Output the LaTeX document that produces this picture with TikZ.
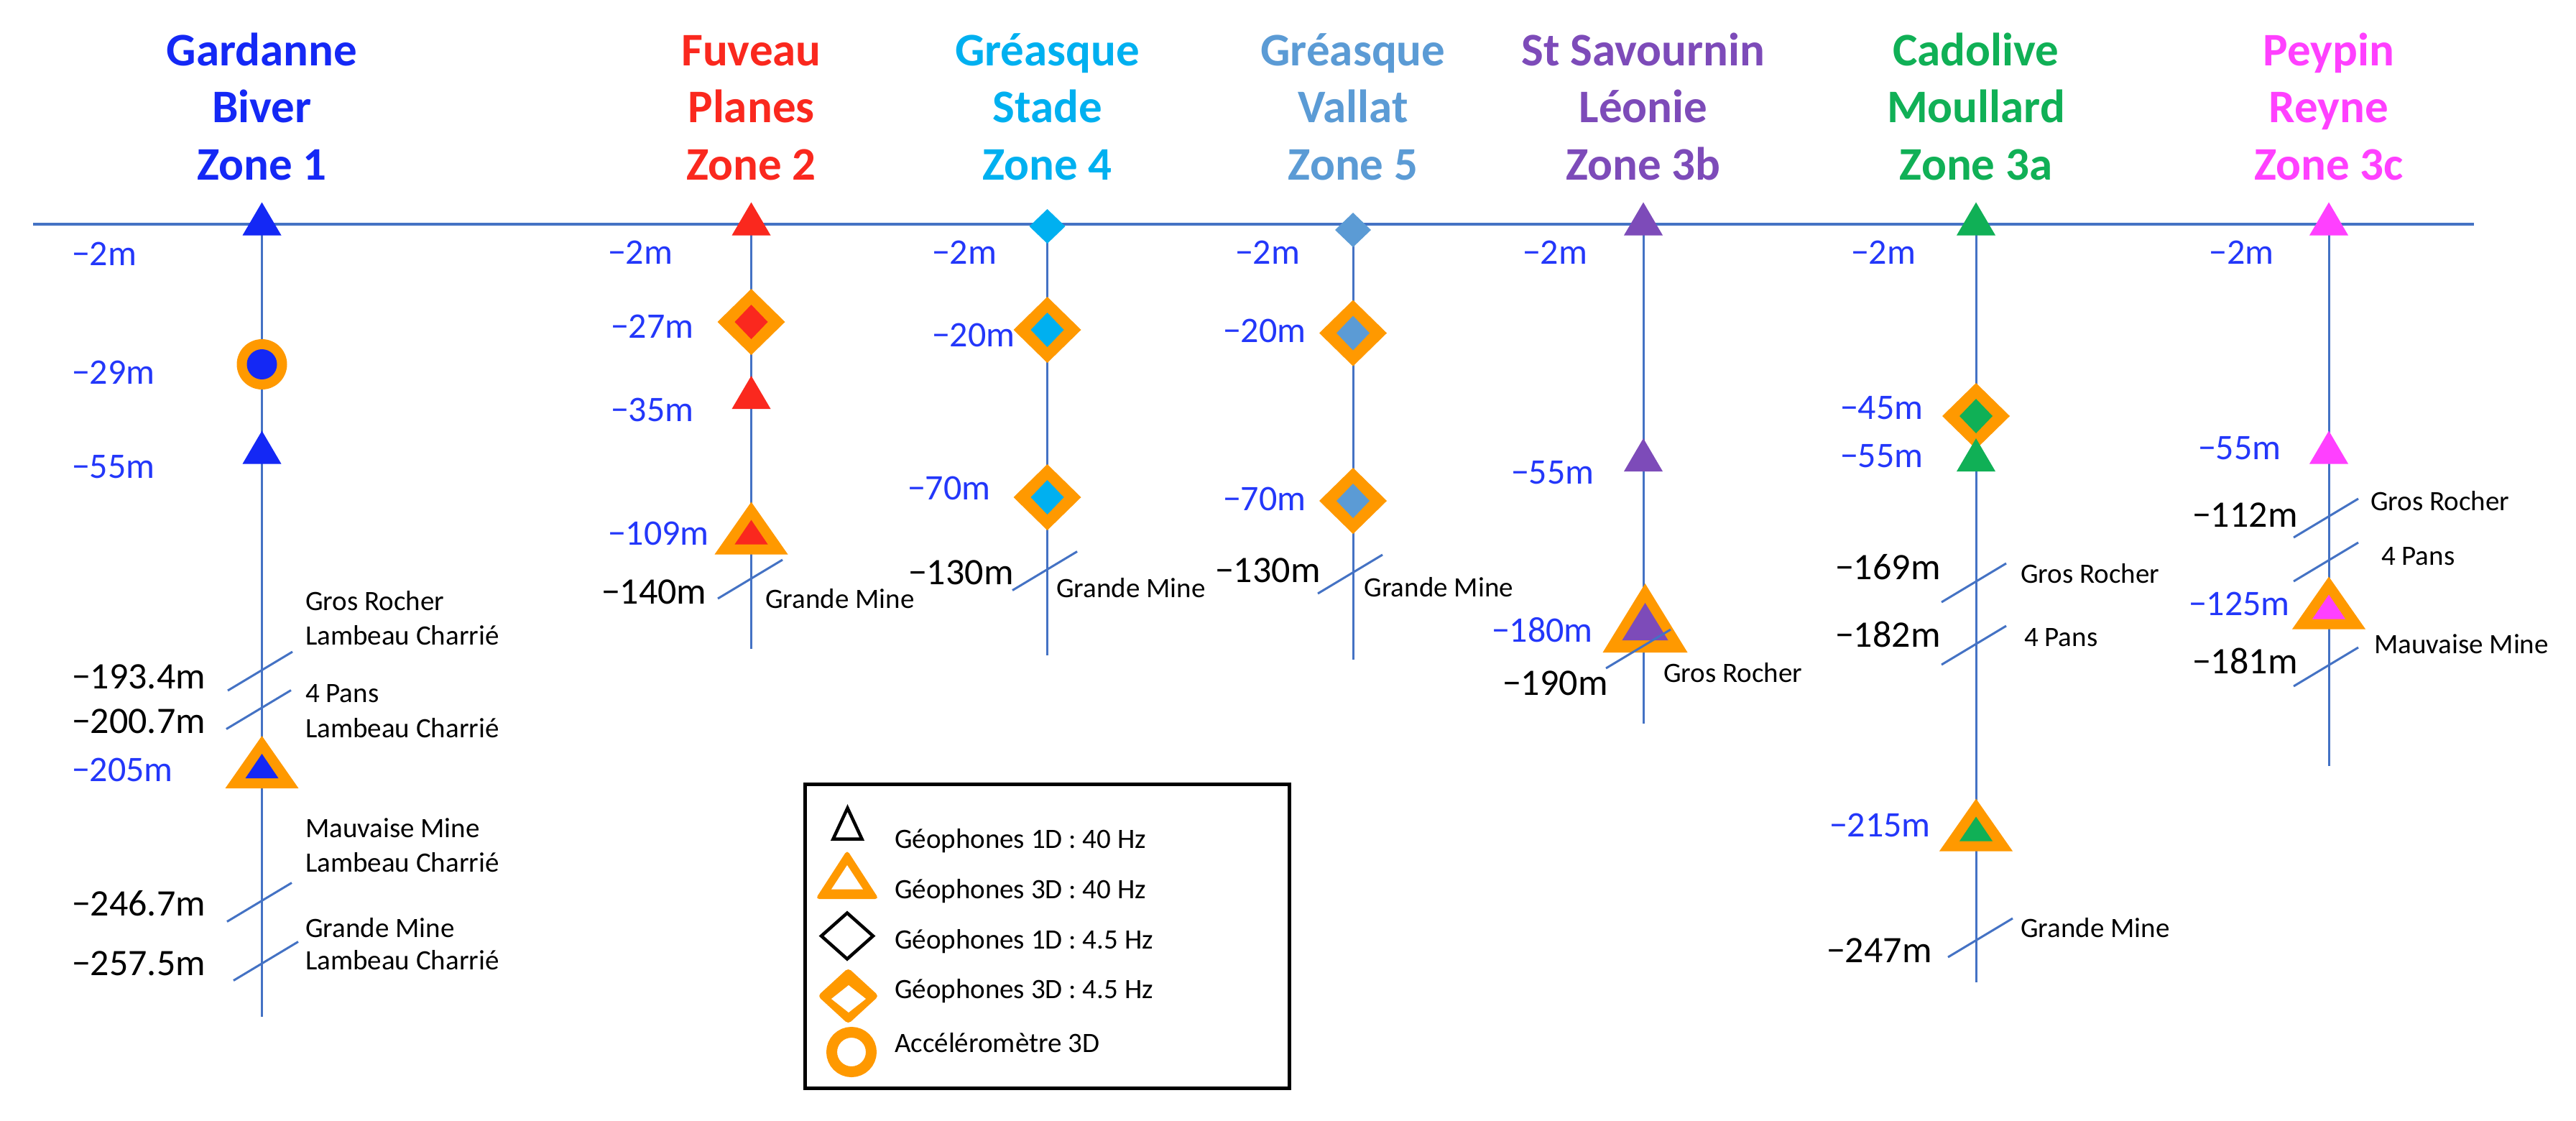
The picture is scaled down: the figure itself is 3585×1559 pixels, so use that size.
\documentclass[tikz,border=0pt]{standalone}
\usepackage{fontspec}
\setmainfont{Carlito}
\definecolor{linecol}{RGB}{68,114,196}
\definecolor{depthblue}{RGB}{35,55,250}
\definecolor{gardblue}{RGB}{20,40,245}
\definecolor{fuvred}{RGB}{250,40,30}
\definecolor{stadecyan}{RGB}{0,176,240}
\definecolor{vallatblue}{RGB}{91,155,213}
\definecolor{savpurple}{RGB}{125,75,185}
\definecolor{cadgreen}{RGB}{16,176,86}
\definecolor{peypink}{RGB}{255,64,255}
\definecolor{orng}{RGB}{255,153,0}
\tikzset{
 hline/.style={linecol, line width=3.5pt},
 vline/.style={linecol, line width=3pt},
 fault/.style={linecol, line width=3pt},
 depth/.style={anchor=west, inner sep=0pt, outer sep=0pt, text=depthblue, font=\fontsize{50}{60}\selectfont},
 depthk/.style={anchor=west, inner sep=0pt, outer sep=0pt, text=black, font=\fontsize{52}{62}\selectfont},
 rock/.style={anchor=west, inner sep=0pt, outer sep=0pt, text=black, font=\fontsize{39}{47}\selectfont},
 ztitle/.style={anchor=base, inner sep=0pt, outer sep=0pt, font=\fontsize{65}{80}\selectfont\bfseries},
 legtext/.style={anchor=west, inner sep=0pt, outer sep=0pt, text=black, font=\fontsize{39}{47}\selectfont},
}
\newcommand\TriS[3]{\fill[#3, shift={(#1,#2)}] (-27,23) -- (27,23) -- (0,-23) -- cycle;}
\newcommand\TriB[3]{\fill[orng, shift={(#1,#2)}] (-51,36.5) -- (51,36.5) -- (0,-36.5) -- cycle;
  \fill[#3, shift={(#1,#2)}] (-23,22.5) -- (23,22.5) -- (0,-11.5) -- cycle;}
\newcommand\TriBL[3]{\fill[orng, shift={(#1,#2)}] (-59,48) -- (59,48) -- (0,-48) -- cycle;
  \fill[#3, shift={(#1,#2)}] (-32,31) -- (32,31) -- (0,-21) -- cycle;}
\newcommand\DiaS[3]{\fill[#3, shift={(#1,#2)}] (0,-24) -- (25,0) -- (0,24) -- (-25,0) -- cycle;}
\newcommand\DiaB[3]{\fill[orng, shift={(#1,#2)}] (0,-46) -- (47,0) -- (0,46) -- (-47,0) -- cycle;
  \fill[#3, shift={(#1,#2)}] (0,-24) -- (23,0) -- (0,24) -- (-23,0) -- cycle;}
\newcommand\Fault[2]{\draw[fault, shift={(#1,#2)}] (-45,27) -- (45,-27);}
\begin{document}
\begin{tikzpicture}[x=1pt,y=-1pt]
\useasboundingbox (0,0) rectangle (3585,1559);
\fill[white] (0,0) rectangle (3585,1559);

% surface line
\coordinate (hl) at (46,312);
\coordinate (hr) at (3443,312);
\draw[hline] (hl) -- (hr);

% boreholes
\coordinate (g0) at (364.5,312);  \coordinate (g1) at (364.5,1415);
\coordinate (f0) at (1045.5,312); \coordinate (f1) at (1045.5,903);
\coordinate (s0) at (1457.5,312); \coordinate (s1) at (1457.5,912);
\coordinate (v0) at (1883,312);   \coordinate (v1) at (1883,918);
\coordinate (l0) at (2287,312);   \coordinate (l1) at (2287,1007);
\coordinate (c0) at (2750,312);   \coordinate (c1) at (2750,1367);
\coordinate (p0) at (3241,312);   \coordinate (p1) at (3241,1066);
\draw[vline] (g0) -- (g1);
\draw[vline] (f0) -- (f1);
\draw[vline] (s0) -- (s1);
\draw[vline] (v0) -- (v1);
\draw[vline] (l0) -- (l1);
\draw[vline] (c0) -- (c1);
\draw[vline] (p0) -- (p1);

% titles
\node[ztitle, text=gardblue] (ta1) at (364.5,91.5) {Gardanne};
\node[ztitle, text=gardblue] (ta2) at (364.5,170.5) {Biver};
\node[ztitle, text=gardblue] (ta3) at (364.5,250) {Zone 1};
\node[ztitle, text=fuvred] (tb1) at (1045.5,91.5) {Fuveau};
\node[ztitle, text=fuvred] (tb2) at (1045.5,170.5) {Planes};
\node[ztitle, text=fuvred] (tb3) at (1045.5,250) {Zone 2};
\node[ztitle, text=stadecyan] (tc1) at (1457.5,91.5) {Gréasque};
\node[ztitle, text=stadecyan] (tc2) at (1457.5,170.5) {Stade};
\node[ztitle, text=stadecyan] (tc3) at (1457.5,250) {Zone 4};
\node[ztitle, text=vallatblue] (td1) at (1883,91.5) {Gréasque};
\node[ztitle, text=vallatblue] (td2) at (1883,170.5) {Vallat};
\node[ztitle, text=vallatblue] (td3) at (1883,250) {Zone 5};
\node[ztitle, text=savpurple] (te1) at (2287,91.5) {St Savournin};
\node[ztitle, text=savpurple] (te2) at (2287,170.5) {Léonie};
\node[ztitle, text=savpurple] (te3) at (2287,250) {Zone 3b};
\node[ztitle, text=cadgreen] (tf1) at (2750,91.5) {Cadolive};
\node[ztitle, text=cadgreen] (tf2) at (2750,170.5) {Moullard};
\node[ztitle, text=cadgreen] (tf3) at (2750,250) {Zone 3a};
\node[ztitle, text=peypink] (tg1) at (3241,91.5) {Peypin};
\node[ztitle, text=peypink] (tg2) at (3241,170.5) {Reyne};
\node[ztitle, text=peypink] (tg3) at (3241,250) {Zone 3c};

% symbols: Gardanne
\TriS{364.5}{304.5}{gardblue}
\fill[orng] (364.5,507) circle[radius=35pt];
\fill[gardblue] (364.5,507) circle[radius=21pt];
\TriS{364.5}{622.5}{gardblue}
\TriB{364.5}{1060.5}{gardblue}
% Fuveau
\TriS{1045.5}{304.5}{fuvred}
\DiaB{1045.5}{448}{fuvred}
\TriS{1045.5}{546}{fuvred}
\TriB{1045.5}{735}{fuvred}
% Greasque Stade
\DiaS{1457.5}{315}{stadecyan}
\DiaB{1457.5}{459}{stadecyan}
\DiaB{1457.5}{692}{stadecyan}
% Greasque Vallat
\DiaS{1883}{320}{vallatblue}
\DiaB{1883}{463.5}{vallatblue}
\DiaB{1883}{697}{vallatblue}
% St Savournin
\TriS{2287}{304.5}{savpurple}
\TriS{2287}{633}{savpurple}
\TriBL{2289.5}{860}{savpurple}
% Cadolive
\TriS{2750}{304.5}{cadgreen}
\DiaB{2750}{579}{cadgreen}
\TriS{2750}{633}{cadgreen}
\TriB{2750}{1148}{cadgreen}
% Peypin
\TriS{3241}{304.5}{peypink}
\TriS{3241}{622.5}{peypink}
\TriB{3241}{839}{peypink}

% faults
\Fault{362}{934}
\Fault{360}{987.5}
\Fault{361}{1255.5}
\Fault{370}{1337.5}
\Fault{1044}{806}
\Fault{1454}{794.5}
\Fault{1879}{799}
\Fault{2280}{903}
\Fault{2747}{811}
\Fault{2747}{898}
\Fault{2756}{1305}
\Fault{3237}{721}
\Fault{3237}{782}
\Fault{3237}{928}

% labels Gardanne
\node[depth] (ga2) at (100,353) {−2m};
\node[depth] (ga29) at (100,518) {−29m};
\node[depth] (ga55) at (100,650) {−55m};
\node[depthk] (ga193) at (100,941.5) {−193.4m};
\node[depthk] (ga200) at (100,1004) {−200.7m};
\node[depth] (ga205) at (100,1071) {−205m};
\node[depthk] (ga246) at (100,1257) {−246.7m};
\node[depthk] (ga257) at (100,1341) {−257.5m};
\node[rock] (gr1) at (425,836) {Gros Rocher};
\node[rock] (gr2) at (425,884) {Lambeau Charrié};
\node[rock] (gr3) at (425,965) {4 Pans};
\node[rock] (gr4) at (425,1013) {Lambeau Charrié};
\node[rock] (gr5) at (425,1152) {Mauvaise Mine};
\node[rock] (gr6) at (425,1200) {Lambeau Charrié};
\node[rock] (gr7) at (425,1291) {Grande Mine};
\node[rock] (gr8) at (425,1336) {Lambeau Charrié};
% Fuveau
\node[depth] (fu2) at (846,351) {−2m};
\node[depth] (fu27) at (850,454) {−27m};
\node[depth] (fu35) at (850,570) {−35m};
\node[depth] (fu109) at (846,742) {−109m};
\node[depthk] (fu140) at (837,824) {−140m};
\node[rock] (fur1) at (1065,833) {Grande Mine};
% Stade
\node[depth] (st2) at (1297,351) {−2m};
\node[depth] (st20) at (1297,466.5) {−20m};
\node[depth] (st70) at (1263,679) {−70m};
\node[depthk] (st130) at (1264,797) {−130m};
\node[rock] (str1) at (1470,818) {Grande Mine};
% Vallat
\node[depth] (va2) at (1719,351) {−2m};
\node[depth] (va20) at (1702,460.5) {−20m};
\node[depth] (va70) at (1702,694) {−70m};
\node[depthk] (va130) at (1691,794) {−130m};
\node[rock] (var1) at (1898.5,817) {Grande Mine};
% St Savournin
\node[depth] (sa2) at (2119,351) {−2m};
\node[depth] (sa55) at (2103,658) {−55m};
\node[depth] (sa180) at (2076,877) {−180m};
\node[depthk] (sa190) at (2091,950.5) {−190m};
\node[rock] (sar1) at (2315,936.5) {Gros Rocher};
% Cadolive
\node[depth] (ca2) at (2576,351) {−2m};
\node[depth] (ca45) at (2561,568) {−45m};
\node[depth] (ca55) at (2561,635) {−55m};
\node[depthk] (ca169) at (2554,789) {−169m};
\node[rock] (car1) at (2812,798) {Gros Rocher};
\node[depthk] (ca182) at (2554,882.5) {−182m};
\node[rock] (car2) at (2817,887) {4 Pans};
\node[depth] (ca215) at (2546,1148.6) {−215m};
\node[depthk] (ca247) at (2542,1323) {−247m};
\node[rock] (car3) at (2812,1291.5) {Grande Mine};
% Peypin
\node[depth] (pe2) at (3074.5,351) {−2m};
\node[depth] (pe55) at (3059,624) {−55m};
\node[depthk] (pe112) at (3051,717) {−112m};
\node[rock] (per1) at (3299,696.6) {Gros Rocher};
\node[rock] (per2) at (3314,774) {4 Pans};
\node[depth] (pe125) at (3046,840) {−125m};
\node[rock] (per3) at (3304,896.5) {Mauvaise Mine};
\node[depthk] (pe181) at (3051,920) {−181m};

% legend
\node[draw=black, line width=5pt, minimum width=674pt, minimum height=423pt, inner sep=0pt] (legend) at (1457.5,1303) {};
\draw[black, line width=4.5pt, shift={(1179.5,1145.5)}] (-20,22) -- (20,22) -- (0,-21) -- cycle;
\fill[orng, rounded corners=5pt, shift={(1179,1217)}] (-44,34) -- (44,34) -- (0,-34) -- cycle;
\fill[white, shift={(1179,1217)}] (-22,20.6) -- (22,20.6) -- (0,-13) -- cycle;
\draw[black, line width=4.5pt, shift={(1179,1302.5)}] (0,-32) -- (36,0) -- (0,32) -- (-36,0) -- cycle;
\fill[orng, rounded corners=5pt, shift={(1180.5,1386)}] (0,-39) -- (42.5,0) -- (0,39) -- (-42.5,0) -- cycle;
\fill[white, shift={(1181,1390)}] (0,-19) -- (24,0) -- (0,19) -- (-24,0) -- cycle;
\draw[orng, line width=15pt] (1185,1464) circle[radius=27.5pt];
\node[legtext] (lg1) at (1245,1170) {Géophones 1D : 40 Hz};
\node[legtext] (lg2) at (1245,1240) {Géophones 3D : 40 Hz};
\node[legtext] (lg3) at (1245,1310) {Géophones 1D : 4.5 Hz};
\node[legtext] (lg4) at (1245,1379.5) {Géophones 3D : 4.5 Hz};
\node[legtext] (lg5) at (1245,1451) {Accéléromètre 3D};
\end{tikzpicture}
\end{document}
